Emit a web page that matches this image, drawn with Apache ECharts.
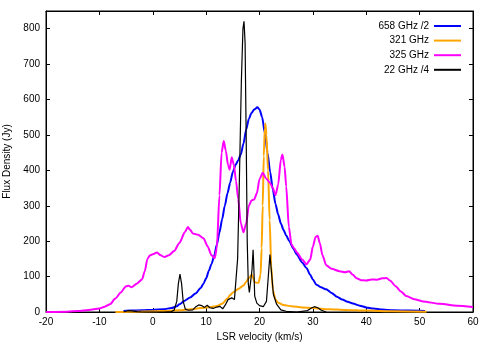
<!DOCTYPE html>
<html>
<head>
<meta charset="utf-8">
<script src="https://cdn.jsdelivr.net/npm/echarts@6/dist/echarts.min.js"></script>
<style>
  html, body { margin: 0; padding: 0; background: #fff; }
  #main { width: 491px; height: 343px; }
</style>
</head>
<body>
<div id="main"></div>
<script>
// legend names
var seriesNames = ['658 GHz /2', '321 GHz', '325 GHz', '22 GHz /4'];

// [LSR velocity km/s, flux Jy]
var flux658 = [[-5.5,3],[-4,4],[-2,5],[0,6],[2,8],[3.5,11],[4.5,16],[5,22],[6,32],[7,41],[8,52],[9,68],
  [9.5,80],[10,95],[10.5,116],[11,135],[11.5,158],[12,190],[12.5,225],[13,262],[13.5,300],[14,335],
  [14.5,365],[15,395],[15.5,415],[16,428],[16.5,445],[17,476],[17.5,515],[18,545],[18.5,562],[19,572],
  [19.6,578],[20,572],[20.5,550],[21,505],[21.5,450],[22,395],[22.5,345],[23,305],[23.5,275],[24,250],
  [24.5,232],[25,216],[25.6,200],[26.3,180],[27,162],[28,140],[28.8,124],[29.5,105],[30,92],[30.6,78],
  [31.5,70],[32.5,64],[33.5,54],[34.5,43],[35.5,35],[36.5,29],[37.5,24],[38.8,18],[40,13],[41.3,10],
  [43,7],[45,5],[48,4],[51,3]];

var flux321 = [[-7,0],[-4,1],[0,2],[3,3],[5,5],[7,8],[9,11],[11,14],[12,17],[13,23],[14,38],[14.5,48],
  [15,55],[16,65],[17,75],[17.5,85],[18,96],[18.6,105],[19.1,84],[19.8,82],[20.2,105],[20.4,180],
  [20.6,300],[20.8,440],[21,520],[21.1,532],[21.3,500],[21.6,400],[21.9,260],[22.2,130],[22.5,62],
  [23,35],[23.5,26],[24.5,20],[26,16],[28,13],[30,11],[33,8],[36,6],[40,4],[45,2],[51.3,1]];

var flux325 = [[-20,0],[-16,1],[-14,3],[-12,6],[-10,10],[-9,15],[-8,22],[-7,38],[-6,55],[-5,73],[-4.5,74],
  [-4,70],[-3,80],[-2,92],[-1.5,115],[-1,150],[-0.5,160],[0,163],[0.8,168],[1.5,160],[2.2,155],[3,160],
  [4,172],[5,195],[6,225],[6.6,240],[7,232],[7.5,222],[8.5,218],[9.5,208],[10.3,185],[11,160],[11.6,152],
  [12,180],[12.5,330],[12.9,450],[13.3,483],[13.7,455],[14.1,415],[14.4,402],[14.8,437],[15.2,415],
  [15.6,370],[16,320],[16.5,250],[17,225],[17.5,250],[18,300],[18.5,315],[19,318],[19.5,335],[20,375],
  [20.6,393],[21.2,378],[21.9,366],[22.5,350],[23,330],[23.5,360],[24,430],[24.3,445],[24.7,410],
  [25,355],[25.5,240],[26,190],[26.5,180],[27,168],[28,148],[28.8,135],[29.5,148],[30,185],[30.5,212],
  [30.9,215],[31.3,195],[31.8,160],[32.5,132],[33.5,122],[35,115],[36,112],[36.8,115],[37.5,105],
  [38.2,95],[39,90],[40,89],[41,92],[42,91],[43,95],[43.8,96],[44.5,88],[45.5,73],[46.5,58],[47.5,45],
  [49,36],[50.6,30],[53.8,23],[57,18],[60,14]];

var flux22 = [[-5.5,0],[-5,2],[-4.5,4],[-4,3],[-3,1],[-2,0],[0,0],[2,0],[3.5,1],[4,5],[4.5,30],[4.8,80],
  [5.1,107],[5.4,80],[5.7,30],[6.1,8],[6.7,5],[7.5,6],[8,14],[8.6,20],[9.2,18],[9.7,13],[10.2,19],
  [10.7,12],[11.3,10],[12,14],[12.6,16],[13.1,9],[13.6,20],[14.1,35],[14.8,40],[15.3,35],[15.6,40],
  [15.9,150],[16.2,350],[16.6,650],[16.9,800],[17.1,821],[17.3,760],[17.5,500],[17.7,200],[17.9,80],
  [18.1,55],[18.4,60],[18.6,120],[18.8,176],[18.95,120],[19.1,45],[19.5,25],[20,18],[20.7,15],[21.3,30],
  [21.6,90],[21.95,162],[22.2,120],[22.6,50],[23.2,22],[24,6],[25,2],[27,0],[29,4],[29.8,12],[30.3,15],
  [30.9,12],[31.6,5],[32.5,0]];

var seriesColors = ['#0000ff', '#ffa500', '#ff00ff', '#000000'];
var seriesData = [flux658, flux321, flux325, flux22];

var font = 'Liberation Sans';
var myChart = echarts.init(document.getElementById('main'));

var tickStyle = { inside: true, length: 4, lineStyle: { color: '#000', width: 1 } };

var series = [];
for (var i = 0; i < seriesNames.length; i++) {
    series.push({
        name: seriesNames[i],
        type: 'line',
        data: seriesData[i],
        showSymbol: false,
        symbol: 'none',
        smooth: i === 3 ? false : 0.25,
        smoothMonotone: 'x',
        lineStyle: { color: seriesColors[i], width: i === 3 ? 1.2 : 2 },
        itemStyle: { color: seriesColors[i] },
        xAxisIndex: 0,
        yAxisIndex: 0,
        animation: false
    });
}

var option = {
    backgroundColor: '#fff',
    animation: false,
    textStyle: { fontFamily: font },
    grid: {
        left: 46, right: 18, top: 11, bottom: 31,
        outerBoundsMode: 'none',
        containLabel: false,
        show: true, borderColor: '#000', borderWidth: 1, backgroundColor: 'transparent'
    },
    legend: {
        orient: 'vertical',
        right: 25,
        top: 16,
        align: 'right',
        itemWidth: 27,
        itemHeight: 2,
        itemGap: 4.6,
        icon: 'rect',
        textStyle: { fontFamily: font, fontSize: 10, color: '#000' },
        data: seriesNames
    },
    xAxis: [{
        type: 'value', position: 'bottom', min: -20, max: 60, interval: 10,
        name: 'LSR velocity (km/s)', nameLocation: 'middle', nameGap: 20,
        nameTextStyle: { fontFamily: font, fontSize: 10, color: '#000' },
        axisLine: { show: true, onZero: false, lineStyle: { color: '#000' } },
        axisTick: tickStyle,
        axisLabel: { fontFamily: font, fontSize: 10, color: '#000', margin: 5 },
        splitLine: { show: false }
    }, {
        type: 'value', position: 'top', min: -20, max: 60, interval: 10,
        axisLine: { show: true, onZero: false, lineStyle: { color: '#000' } },
        axisTick: tickStyle,
        axisLabel: { show: false },
        splitLine: { show: false }
    }],
    yAxis: [{
        type: 'value', position: 'left', min: 0, max: 850, interval: 100,
        name: 'Flux Density (Jy)', nameLocation: 'middle', nameGap: 33,
        nameTextStyle: { fontFamily: font, fontSize: 10, color: '#000' },
        axisLine: { show: true, onZero: false, lineStyle: { color: '#000' } },
        axisTick: tickStyle,
        axisLabel: { fontFamily: font, fontSize: 10, color: '#000', margin: 6, showMaxLabel: false },
        splitLine: { show: false }
    }, {
        type: 'value', position: 'right', min: 0, max: 850, interval: 100,
        axisLine: { show: true, onZero: false, lineStyle: { color: '#000' } },
        axisTick: tickStyle,
        axisLabel: { show: false },
        splitLine: { show: false }
    }],
    series: series
};
myChart.setOption(option);
</script>
</body>
</html>
